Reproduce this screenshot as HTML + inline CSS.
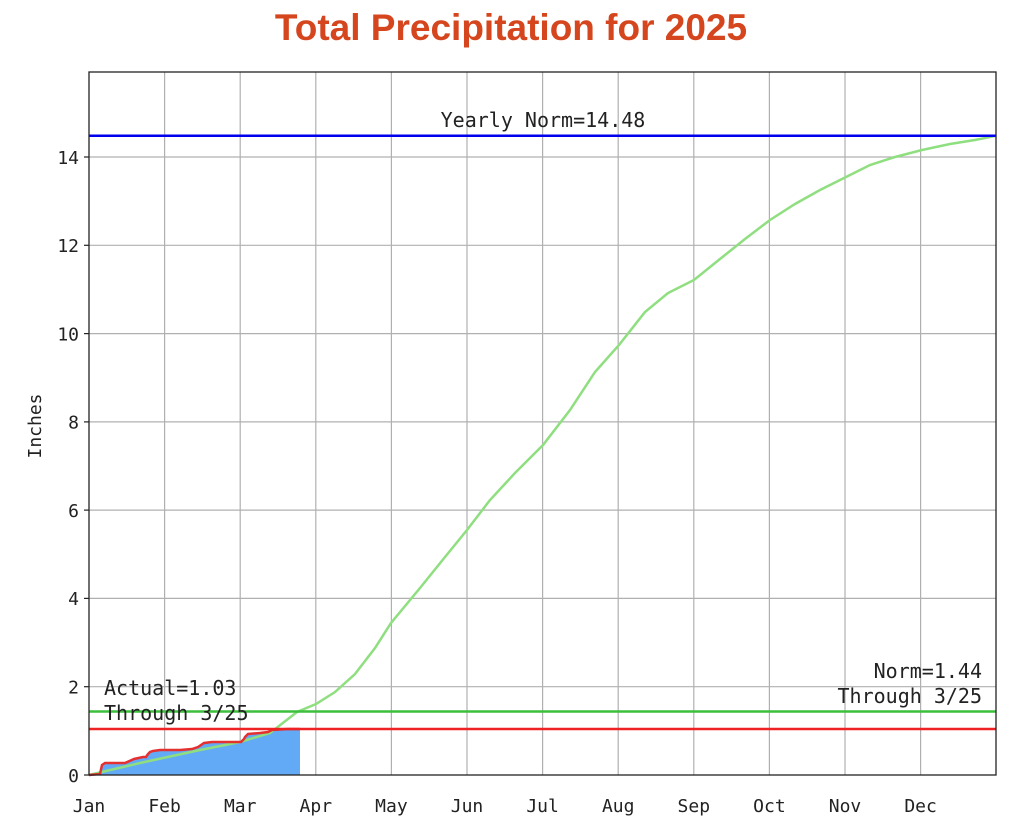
<!DOCTYPE html>
<html><head><meta charset="utf-8"><style>
html,body{margin:0;padding:0;background:#fff;width:1024px;height:818px;overflow:hidden}
</style></head><body>
<svg width="1024" height="818" xmlns="http://www.w3.org/2000/svg" font-family="DejaVu Sans Mono, Liberation Mono, monospace">
<text x="511" y="40" text-anchor="middle" font-family="Liberation Sans, sans-serif" font-weight="bold" font-size="37" fill="#d5461e">Total Precipitation for 2025</text>
<g stroke="#b0b0b0" stroke-width="1.2">
<line x1="164.6" y1="72" x2="164.6" y2="775"/><line x1="240.2" y1="72" x2="240.2" y2="775"/><line x1="315.8" y1="72" x2="315.8" y2="775"/><line x1="391.4" y1="72" x2="391.4" y2="775"/><line x1="467" y1="72" x2="467" y2="775"/><line x1="542.6" y1="72" x2="542.6" y2="775"/><line x1="618.2" y1="72" x2="618.2" y2="775"/><line x1="693.8" y1="72" x2="693.8" y2="775"/><line x1="769.4" y1="72" x2="769.4" y2="775"/><line x1="845" y1="72" x2="845" y2="775"/><line x1="920.6" y1="72" x2="920.6" y2="775"/>
<line x1="89" y1="686.7" x2="996" y2="686.7"/><line x1="89" y1="598.4" x2="996" y2="598.4"/><line x1="89" y1="510.1" x2="996" y2="510.1"/><line x1="89" y1="421.9" x2="996" y2="421.9"/><line x1="89" y1="333.6" x2="996" y2="333.6"/><line x1="89" y1="245.3" x2="996" y2="245.3"/><line x1="89" y1="157" x2="996" y2="157"/>
</g>
<polygon fill="#62aaf5" points="89,775 100,774 102,765 105,763 125,763 134,759 143,757 146,757 148,754 150,752 153,751 160,750 180,750 192,749 198,747 201,745 204,743 212,742 225,742 241,742 244,739 245,737 248,734 260,733 268,732 272,730 288,729 300,729 300,775"/>
<path fill="none" stroke="#8fdf80" stroke-width="2.5" d="M89,775 L140,763 L200,750 L240,742 L270,733 L297,712 L316,704 L335,692 L355,674 L375,648 L391,623 L420,588 L445,557 L467,530 L490,500 L515,473 L543,445 L570,410 L595,372 L619,345 L645,312 L668,293 L694,280 L720,259 L745,239 L770,220 L795,204 L820,190 L846,177 L870,165 L895,157 L922,150 L950,144 L975,140 L996,135.8"/>
<polyline fill="none" stroke="#e53030" stroke-width="2.5" points="89,775 100,774 102,765 105,763 125,763 134,759 143,757 146,757 148,754 150,752 153,751 160,750 180,750 192,749 198,747 201,745 204,743 212,742 225,742 241,742 244,739 245,737 248,734 260,733 268,732 272,730 288,729 300,729"/>
<line x1="89" y1="135.8" x2="996" y2="135.8" stroke="#0000ee" stroke-width="2.5"/>
<line x1="89" y1="711.5" x2="996" y2="711.5" stroke="#3cbf3c" stroke-width="2.5"/>
<line x1="89" y1="729" x2="996" y2="729" stroke="#ee2222" stroke-width="2.4"/>
<rect x="89" y="72" width="907" height="703" fill="none" stroke="#222" stroke-width="1.3"/>
<g stroke="#222" stroke-width="1.2">
<line x1="84" y1="775" x2="89" y2="775"/><line x1="84" y1="686.7" x2="89" y2="686.7"/><line x1="84" y1="598.4" x2="89" y2="598.4"/><line x1="84" y1="510.1" x2="89" y2="510.1"/><line x1="84" y1="421.9" x2="89" y2="421.9"/><line x1="84" y1="333.6" x2="89" y2="333.6"/><line x1="84" y1="245.3" x2="89" y2="245.3"/><line x1="84" y1="157" x2="89" y2="157"/>
</g>
<g font-size="18" fill="#222" text-anchor="end">
<text x="79" y="782">0</text><text x="79" y="693.5">2</text><text x="79" y="605">4</text><text x="79" y="517">6</text><text x="79" y="428.5">8</text><text x="79" y="340.5">10</text><text x="79" y="252">12</text><text x="79" y="164">14</text>
</g>
<g font-size="18" fill="#222" text-anchor="middle">
<text x="89" y="812">Jan</text><text x="164.6" y="812">Feb</text><text x="240.2" y="812">Mar</text><text x="315.8" y="812">Apr</text><text x="391.4" y="812">May</text><text x="467" y="812">Jun</text><text x="542.6" y="812">Jul</text><text x="618.2" y="812">Aug</text><text x="693.8" y="812">Sep</text><text x="769.4" y="812">Oct</text><text x="845" y="812">Nov</text><text x="920.6" y="812">Dec</text>
</g>
<text transform="translate(41,426) rotate(-90)" font-size="18" fill="#222" text-anchor="middle">Inches</text>
<g font-size="20" fill="#222">
<text x="543" y="127" text-anchor="middle">Yearly Norm=14.48</text>
<text x="104" y="695">Actual=1.03</text>
<text x="104" y="720">Through 3/25</text>
<text x="982" y="678" text-anchor="end">Norm=1.44</text>
<text x="982" y="703" text-anchor="end">Through 3/25</text>
</g>
</svg>
</body></html>
